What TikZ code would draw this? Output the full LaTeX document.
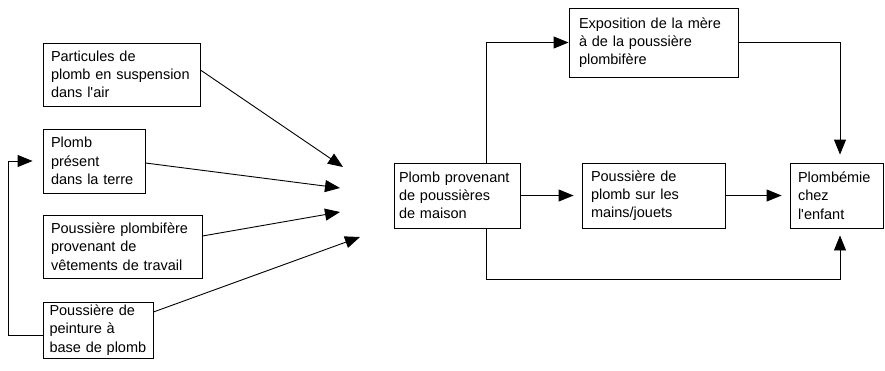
\documentclass[tikz,border=0pt]{standalone}
\usepackage{fontspec}
\setmainfont{Liberation Sans}
\usetikzlibrary{arrows.meta}

\tikzset{
    box/.style={draw, line width=0.9pt, align=left, inner xsep=5pt, inner ysep=0pt, font=\fontsize{14.5}{18.3}\selectfont},
    fleche/.style={line width=0.9pt, -{Triangle[length=15pt,width=12pt]}}
}

\begin{document}
\begin{tikzpicture}[x=1pt,y=-1pt]
        \useasboundingbox (0,0) rectangle (885,370);
        \node[box, text width=141pt, minimum height=63pt, inner xsep=8pt] (air) at (121.5,74.5) {Particules de\\plomb en suspension\\dans l\textquotesingle air};
        \node[box, text width=86pt, minimum height=64pt, inner xsep=8pt] (terre) at (94,161) {Plomb\\présent\\dans la terre};
        \node[box, text width=143pt, minimum height=63pt, inner xsep=8pt] (vetements) at (122.5,246.5) {Poussière plombifère\\provenant de\\vêtements de travail};
        \node[box, text width=97pt, minimum height=56pt, inner xsep=6.5pt] (peinture) at (98,330) {Poussière de\\peinture à\\base de plomb};
        \node[box, text width=116pt, minimum height=65pt] (maison) at (457,195.5) {Plomb provenant\\de poussières\\de maison};
        \node[box, text width=149pt, minimum height=69pt, inner xsep=10pt] (mere) at (653.5,42.5) {Exposition de la mère\\à de la poussière\\plombifère};
        \node[box, text width=125pt, minimum height=65pt, inner xsep=9pt] (mains) at (653.5,195.5) {Poussière de\\plomb sur les\\mains/jouets};
        \node[box, text width=77pt, minimum height=65pt, inner xsep=8pt] (enfant) at (836.5,195.5) {Plombémie\\chez\\l\textquotesingle enfant};
        \coordinate (p1) at (343,167);
        \coordinate (p2) at (340,188);
        \coordinate (p3) at (340,212);
        \coordinate (p4) at (360,237);
        \coordinate (gauche) at (8,335);
        \draw[fleche] ([yshift=4.5pt]air.east) -- (p1);
        \draw[fleche] ([yshift=-2pt]terre.east) -- (p2);
        \draw[fleche] ([yshift=10.5pt]vetements.east) -- (p3);
        \draw[fleche] ([yshift=18pt]peinture.east) -- (p4);
        \draw[fleche] ([yshift=-5pt]peinture.west) -- ([yshift=-5pt]peinture.west -| gauche) |- ([xshift=-10pt]terre.west);
        \draw[fleche] ([xshift=29pt]maison.north) |- (mere.west);
        \draw[fleche] (mere.east) -| ([xshift=3.5pt,yshift=8pt]enfant.north);
        \draw[fleche, shorten >=8pt] (maison.east) -- (mains.west);
        \draw[fleche, shorten >=8pt] (mains.east) -- (enfant.west);
        \draw[fleche] ([xshift=29pt]maison.south) -- ++(0,51) -| ([xshift=3.5pt,yshift=-7pt]enfant.south);
    \end{tikzpicture}
\end{document}
